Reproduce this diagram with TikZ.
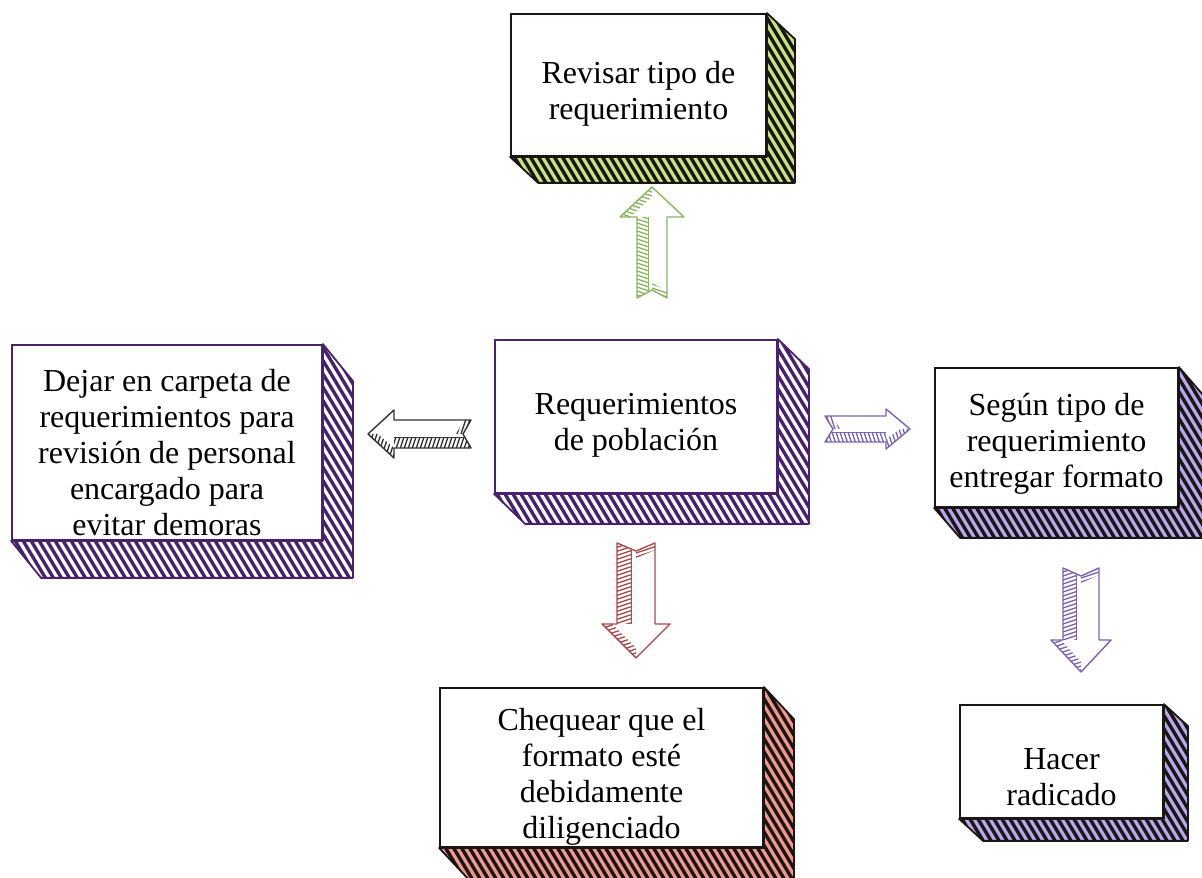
\documentclass[tikz,border=0pt]{standalone}
\usepackage{fontspec}
\setmainfont{Liberation Serif}
\usetikzlibrary{calc}
\definecolor{grn}{RGB}{200,228,128}
\definecolor{dpur}{RGB}{72,34,108}
\definecolor{lpur}{RGB}{186,166,238}
\definecolor{salm}{RGB}{242,150,142}
\definecolor{agrn}{RGB}{138,180,100}
\definecolor{ared}{RGB}{168,74,74}
\definecolor{apur}{RGB}{122,102,176}
\definecolor{agry}{RGB}{50,50,50}
\definecolor{ink}{RGB}{25,22,20}

\newcommand\extrude[6]{%
  \def\extpath{(#1.north east) -- ++(#2,-#3) -- ($(#1.south east)+(#2,-#3)$) -- ($(#1.south west)+(#2,-#3)$) -- (#1.south west) -- (#1.south east) -- cycle}%
  \fill[#4] \extpath;
  \begin{scope}
    \clip \extpath;
    \foreach \k in {0,...,72}{\draw[#5, line width=3.4pt] ($(#1.north west)+(8*\k-160,10)$) -- ++(156,-260);}
  \end{scope}
  \draw[#6, line width=1.8pt, line join=round] \extpath;
}

\newcommand\blockarrow[8]{%
  \begin{scope}[shift={(#2)}, rotate=#3, yscale=#8]
    \pgfmathsetmacro\Lh{#4-#7}
    \pgfmathsetmacro\Sw{0.25*#5}
    \fill[white] (0,-#5) -- (\Lh,-#5) -- (\Lh,-#6) -- (#4,0) -- (\Lh,#6) -- (\Lh,#5) -- (0,#5) -- (8,0) -- cycle;
    \begin{scope}
      \clip (6,\Sw) -- (\Lh,\Sw) -- (\Lh,#5) -- (0,#5) -- cycle
            (\Lh,#6) -- (#4,0) -- (#4-10,0) -- (\Lh,#6-10) -- cycle
            (8,0) -- (0,-#5) -- (7,-#5) -- (15,0) -- cycle;
      \foreach \k in {0,...,45}{\draw[#1, line width=1.3pt] (4*\k-50,-60) -- ++(40,120);}
    \end{scope}
    \draw[#1, line width=1.4pt, line join=round] (0,-#5) -- (\Lh,-#5) -- (\Lh,-#6) -- (#4,0) -- (\Lh,#6) -- (\Lh,#5) -- (0,#5) -- (8,0) -- cycle;
    \draw[#1, line width=0.8pt] (\Lh,\Sw) -- (6,\Sw);
  \end{scope}
}

\begin{document}
\begin{tikzpicture}[x=1pt,y=1pt,
  face/.style={draw=#1, line width=1.8pt, fill=white, inner sep=0pt},
  txt/.style={align=center, font=\fontsize{32}{36}\selectfont, inner sep=0pt}]
\useasboundingbox (0,0) rectangle (1202,878);
\fill[white] (0,0) rectangle (1202,878);

% Revisar
\node[face=ink, minimum width=255pt, minimum height=142pt] (rev) at (638.5,793) {};
\extrude{rev}{28}{26}{grn}{ink}{ink}
\node[txt] (revt) at ($(rev.center)+(0,-9)$) {Revisar tipo de\\requerimiento};

% Requerimientos
\node[face=dpur, minimum width=282pt, minimum height=153pt] (req) at (636,461.5) {};
\extrude{req}{31}{30}{white}{dpur}{dpur}
\node[txt] (reqt) at ($(req.center)+(0,-9)$) {Requerimientos\\de población};

% Dejar
\node[face=dpur, minimum width=310pt, minimum height=195pt] (dej) at (167,435.5) {};
\extrude{dej}{30}{37}{white}{dpur}{dpur}
\node[txt] (dejt) at ($(dej.center)+(0,-10)$) {Dejar en carpeta de\\requerimientos para\\revisión de personal\\encargado para\\evitar demoras};

% Segun
\node[face=ink, minimum width=243pt, minimum height=139pt] (seg) at (1056.5,440.5) {};
\extrude{seg}{26}{30}{lpur}{ink}{ink}
\node[txt] (segt) at ($(seg.center)+(0,-6)$) {Según tipo de\\requerimiento\\entregar formato};

% Chequear
\node[face=ink, minimum width=323pt, minimum height=159pt] (che) at (601.5,110.5) {};
\extrude{che}{30}{32}{salm}{ink}{ink}
\node[txt] (chet) at ($(che.center)+(0,-9)$) {Chequear que el\\formato esté\\debidamente\\diligenciado};

% Hacer
\node[face=ink, minimum width=203pt, minimum height=113pt] (hac) at (1061.5,116.5) {};
\extrude{hac}{24}{22}{lpur}{ink}{ink}
\node[txt] (hact) at ($(hac.center)+(0,-16)$) {Hacer\\radicado};

% arrows
\coordinate (aup) at (652,580);
\coordinate (alf) at (471,444);
\coordinate (art) at (825,449);
\coordinate (adn) at (636,335);
\coordinate (adr) at (1081,310);
\blockarrow{agrn}{aup}{90}{111}{15}{32}{30}{1}
\blockarrow{agry}{alf}{180}{103}{14}{24}{26}{1}
\blockarrow{apur}{art}{0}{85}{13}{20}{24}{-1}
\blockarrow{ared}{adn}{-90}{115}{19}{34}{34}{-1}
\blockarrow{apur}{adr}{-90}{104}{18}{30}{32}{-1}
\end{tikzpicture}
\end{document}
